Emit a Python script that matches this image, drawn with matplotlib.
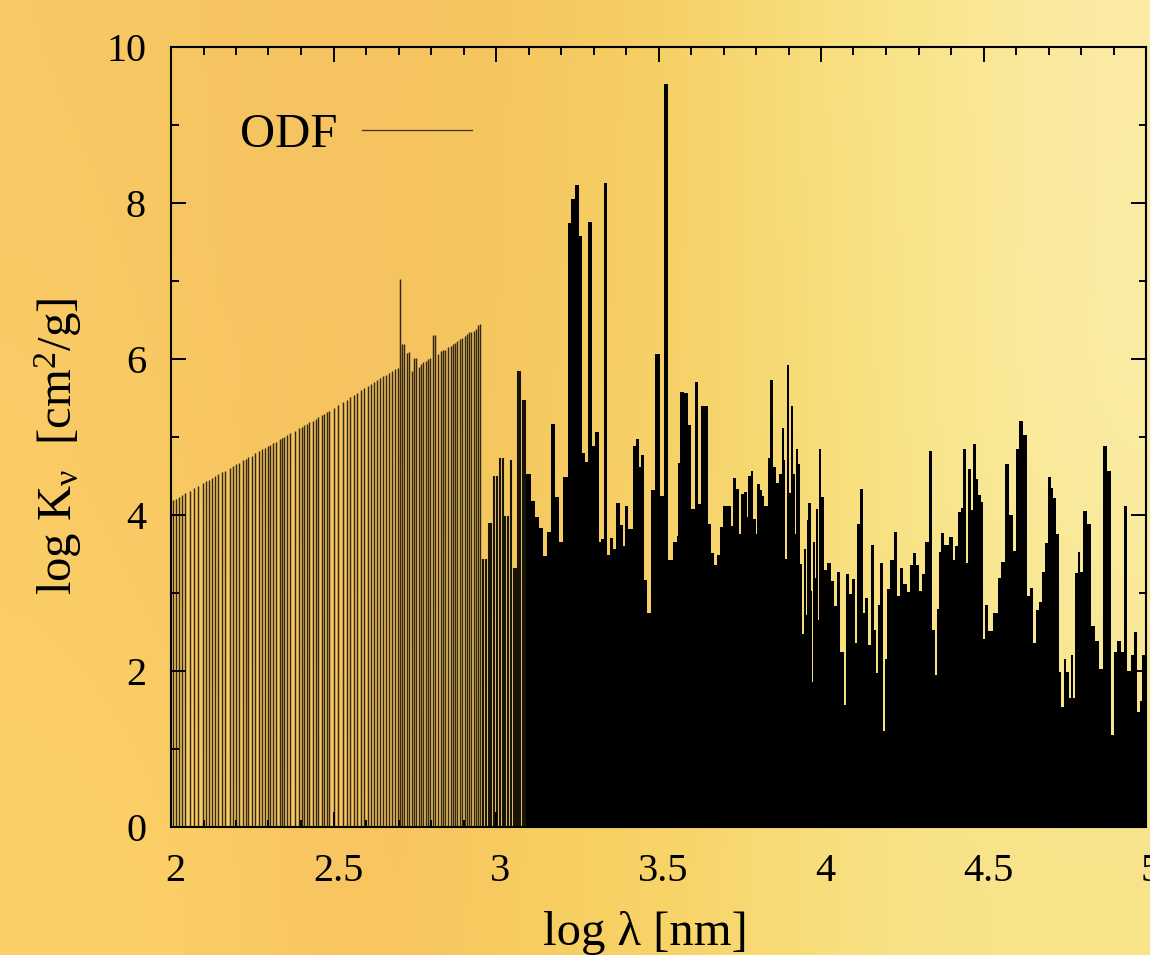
import numpy as np
import matplotlib
matplotlib.use("Agg")
import matplotlib.pyplot as plt
from matplotlib.ticker import MultipleLocator, FixedLocator
from matplotlib.transforms import ScaledTranslation

plt.rcParams["font.family"] = ["Liberation Serif", "DejaVu Serif"]
plt.rcParams["mathtext.fontset"] = "custom"
plt.rcParams["mathtext.rm"] = "Liberation Serif"
plt.rcParams["mathtext.it"] = "Liberation Serif"
plt.rcParams["mathtext.default"] = "rm"

# thin comb of lines on the short wavelength side
comb_x = [2.007, 2.015, 2.024, 2.033, 2.043, 2.057, 2.071, 2.084, 2.097, 2.107, 2.116, 2.126, 2.135,
          2.146, 2.157, 2.167, 2.180, 2.190, 2.200, 2.210, 2.220, 2.231, 2.238, 2.248, 2.258, 2.270,
          2.280, 2.288, 2.297, 2.306, 2.313, 2.323, 2.334, 2.342, 2.349, 2.357, 2.367, 2.380, 2.393,
          2.402, 2.409, 2.417, 2.426, 2.437, 2.445, 2.453, 2.464, 2.471, 2.479, 2.487, 2.502, 2.515,
          2.528, 2.541, 2.552, 2.562, 2.571, 2.584, 2.595, 2.607, 2.616, 2.626, 2.634, 2.643, 2.653,
          2.662, 2.671, 2.681, 2.689, 2.698, 2.705, 2.710, 2.716, 2.725, 2.733, 2.741, 2.749, 2.755,
          2.763, 2.769, 2.776, 2.784, 2.791, 2.797, 2.805, 2.812, 2.821, 2.830, 2.837, 2.843, 2.852,
          2.860, 2.867, 2.874, 2.881, 2.888, 2.895, 2.904, 2.911, 2.918, 2.924, 2.931, 2.938, 2.946,
          2.951]
comb_y = [4.19, 4.21, 4.23, 4.25, 4.28, 4.31, 4.34, 4.37, 4.41, 4.43, 4.45, 4.47, 4.50,
          4.52, 4.55, 4.57, 4.60, 4.63, 4.65, 4.67, 4.70, 4.72, 4.74, 4.76, 4.79, 4.82,
          4.84, 4.86, 4.88, 4.90, 4.92, 4.94, 4.97, 4.99, 5.00, 5.02, 5.05, 5.08, 5.11,
          5.13, 5.15, 5.17, 5.19, 5.21, 5.23, 5.25, 5.28, 5.30, 5.32, 5.33, 5.37, 5.41,
          5.45, 5.48, 5.51, 5.54, 5.57, 5.60, 5.63, 5.66, 5.68, 5.71, 5.73, 5.76, 5.78,
          5.80, 5.82, 5.85, 5.87, 5.89, 7.03, 6.19, 6.19, 6.08, 6.09, 5.84, 6.01, 6.01,
          5.90, 5.93, 5.96, 5.98, 6.00, 6.01, 6.31, 6.31, 6.06, 6.10, 6.12, 6.12, 6.15,
          6.17, 6.19, 6.20, 6.23, 6.25, 6.27, 6.30, 6.32, 6.34, 6.35, 6.36, 6.38, 6.43,
          6.45]

# heavier lines where the comb runs into the solid part
mid_x = [2.960, 2.969, 2.977, 2.985, 2.994, 3.003, 3.012, 3.020, 3.029, 3.037, 3.045, 3.054, 3.060,
         3.068, 3.075, 3.083, 3.089]
mid_y = [3.44, 3.44, 3.90, 3.90, 4.50, 4.50, 4.73, 4.73, 3.99, 3.99, 4.70, 3.32, 3.32,
         5.84, 5.84, 5.47, 5.47]

# solid histogram, left edge of each bin and its height
bin_x = [3.092, 3.107, 3.120, 3.133, 3.146, 3.158, 3.169, 3.180, 3.195, 3.207, 3.222, 3.232, 3.242,
         3.256, 3.264, 3.274, 3.284, 3.295, 3.305, 3.317, 3.323, 3.331, 3.343, 3.352, 3.361, 3.370,
         3.381, 3.390, 3.398, 3.407, 3.423, 3.430, 3.440, 3.446, 3.455, 3.464, 3.476, 3.490, 3.505,
         3.517, 3.530, 3.544, 3.556, 3.559, 3.566, 3.579, 3.590, 3.600, 3.611, 3.623, 3.632, 3.653,
         3.663, 3.672, 3.681, 3.689, 3.697, 3.723, 3.730, 3.739, 3.748, 3.754, 3.763, 3.772, 3.776,
         3.784, 3.792, 3.799, 3.804, 3.812, 3.818, 3.826, 3.838, 3.844, 3.852, 3.863, 3.871, 3.879,
         3.886, 3.890, 3.894, 3.903, 3.907, 3.915, 3.919, 3.923, 3.929, 3.934, 3.940, 3.943, 3.948,
         3.954, 3.958, 3.961, 3.968, 3.972, 3.975, 3.983, 3.985, 3.991, 3.994, 3.999, 4.009, 4.019,
         4.031, 4.041, 4.049, 4.060, 4.071, 4.077, 4.087, 4.095, 4.105, 4.112, 4.120, 4.130, 4.135,
         4.146, 4.153, 4.164, 4.168, 4.174, 4.182, 4.190, 4.196, 4.204, 4.213, 4.226, 4.234, 4.244,
         4.253, 4.264, 4.273, 4.282, 4.292, 4.300, 4.311, 4.321, 4.331, 4.341, 4.351, 4.357, 4.362,
         4.370, 4.379, 4.395, 4.405, 4.413, 4.422, 4.430, 4.438, 4.447, 4.453, 4.463, 4.469, 4.477,
         4.484, 4.491, 4.498, 4.506, 4.515, 4.530, 4.544, 4.554, 4.566, 4.578, 4.592, 4.601, 4.610,
         4.623, 4.633, 4.643, 4.652, 4.662, 4.670, 4.679, 4.688, 4.697, 4.707, 4.715, 4.723, 4.731,
         4.739, 4.748, 4.755, 4.763, 4.768, 4.776, 4.783, 4.790, 4.798, 4.805, 4.817, 4.832, 4.843,
         4.856, 4.868, 4.879, 4.891, 4.900, 4.912, 4.924, 4.932, 4.943, 4.953, 4.962, 4.972, 4.980,
         4.988, 5.000]
bin_y = [4.53, 4.18, 3.98, 3.83, 3.47, 3.78, 5.17, 4.23, 3.65, 4.49, 7.74, 8.05, 8.23,
         7.58, 4.80, 4.68, 7.75, 4.88, 5.06, 3.65, 3.69, 8.25, 3.49, 3.70, 3.57, 4.15,
         3.87, 3.60, 4.12, 3.82, 4.88, 4.98, 4.62, 4.77, 3.17, 2.74, 4.32, 6.06, 4.24,
         9.53, 3.42, 3.65, 3.73, 4.67, 5.58, 5.56, 5.15, 4.08, 5.71, 4.14, 5.40, 3.89,
         3.51, 3.36, 3.49, 3.84, 4.12, 3.86, 4.48, 4.33, 3.76, 4.27, 4.30, 3.98, 4.50,
         4.56, 3.95, 3.76, 4.40, 4.32, 4.24, 4.11, 4.73, 5.73, 4.62, 4.41, 4.53, 5.12,
         4.70, 3.44, 5.92, 4.28, 5.40, 4.53, 3.76, 4.85, 4.66, 3.37, 3.42, 2.47, 3.56,
         2.72, 3.94, 4.16, 3.02, 1.86, 3.66, 3.19, 4.08, 2.65, 4.85, 4.23, 3.29, 3.38,
         3.15, 2.83, 3.27, 2.24, 1.57, 3.24, 2.99, 3.18, 2.36, 3.89, 4.33, 2.75, 2.93,
         2.33, 3.62, 2.52, 1.97, 2.85, 3.39, 1.23, 2.15, 3.05, 3.42, 3.78, 2.96, 3.32,
         3.11, 3.01, 3.36, 3.51, 3.36, 3.02, 3.24, 3.66, 4.82, 2.53, 1.95, 2.80, 3.52,
         3.77, 3.62, 3.72, 3.42, 3.60, 4.04, 4.09, 4.85, 3.38, 4.59, 4.06, 4.91, 4.46,
         4.26, 4.17, 2.41, 2.85, 2.51, 2.74, 3.19, 3.40, 4.66, 4.00, 3.54, 4.85, 5.20,
         5.03, 2.96, 3.06, 2.36, 2.78, 2.89, 3.27, 3.64, 4.49, 4.35, 4.22, 3.76, 1.99,
         1.54, 2.15, 1.99, 1.66, 2.21, 1.66, 3.26, 3.53, 3.27, 4.05, 3.89, 2.58, 2.39,
         2.03, 4.88, 4.56, 1.18, 2.24, 2.38, 2.25, 4.12, 2.00, 2.21, 2.50, 1.47, 1.62,
         2.21]

x_ticks = [2, 2.5, 3, 3.5, 4, 4.5, 5]
x_labels = ["2", "2.5", "3", "3.5", "4", "4.5", "5"]
y_ticks = [0, 2, 4, 6, 8, 10]
y_labels = ["0", "2", "4", "6", "8", "10"]

# blurred gold backdrop
bg_colors = [
    ["#F8C864", "#F6C663", "#F5C360", "#F5C660", "#F5CE62", "#F8DC78", "#FAE68E", "#FBEBA5"],
    ["#FBCC66", "#F8C660", "#F6C25E", "#F5C75E", "#F6D068", "#F8DA72", "#F8E68C", "#FAEDA5"],
    ["#FBCF68", "#FBCE65", "#F8C25F", "#F8CC60", "#F7D264", "#F9DC78", "#F8E38A", "#F8E38A"],
]

fig = plt.figure(figsize=(11.5, 9.55), dpi=100)

bg = fig.add_axes([0, 0, 1, 1], zorder=0)
rgb = np.array([[matplotlib.colors.to_rgb(c) for c in row] for row in bg_colors])
bg.imshow(rgb, aspect="auto", interpolation="bicubic")
bg.axis("off")

ax = fig.add_axes([171 / 1150, 128 / 955, 975 / 1150, 780 / 955], zorder=1)
ax.patch.set_alpha(0)

ax.vlines(comb_x, 0, comb_y, color="black", lw=1.05, alpha=0.8)
ax.vlines(mid_x, 0, mid_y, color="black", lw=1.5, alpha=0.9)
ax.stairs(bin_y, bin_x, fill=True, color="black", lw=0)

ax.plot([], [], color="#3a3020", lw=0.9, label="ODF")
ax.legend(loc="upper left", bbox_to_anchor=(69 / 975, 1 - 66 / 780), frameon=False, markerfirst=False,
          fontsize=35, handlelength=2.26, handletextpad=0.5, borderpad=0, borderaxespad=0)

ax.set_xlim(2, 5)
ax.set_ylim(0, 10)
ax.xaxis.set_major_locator(FixedLocator(x_ticks))
ax.xaxis.set_minor_locator(MultipleLocator(0.1))
ax.yaxis.set_major_locator(FixedLocator(y_ticks))
ax.yaxis.set_minor_locator(MultipleLocator(1))
ax.set_xticklabels(x_labels)
ax.set_yticklabels(y_labels)

ax.tick_params(which="both", direction="in", top=True, right=True, width=1.4, colors="black")
ax.tick_params(which="major", length=10.8)
ax.tick_params(which="minor", length=5.4)
ax.tick_params(axis="x", which="major", labelsize=29, pad=19)
ax.tick_params(axis="y", which="major", labelsize=29, pad=18)

# the x labels sit a few pixels right of their ticks
shift = ScaledTranslation(4.5 / 100, 0, fig.dpi_scale_trans)
for lab in ax.get_xticklabels():
    lab.set_transform(lab.get_transform() + shift)
    lab.set_clip_on(False)

for s in ax.spines.values():
    s.set_linewidth(1.5)

fig.text(645.5 / 1150, 1 - 945 / 955, "log λ [nm]", fontsize=35, ha="center", va="baseline")
fig.text(58 / 1150, 1 - 446 / 955, r"log K$_{\nu}$  [cm$^{2}$/g]", fontsize=35, rotation=90,
         ha="center", va="center")

fig.savefig("out.png", dpi=100)
